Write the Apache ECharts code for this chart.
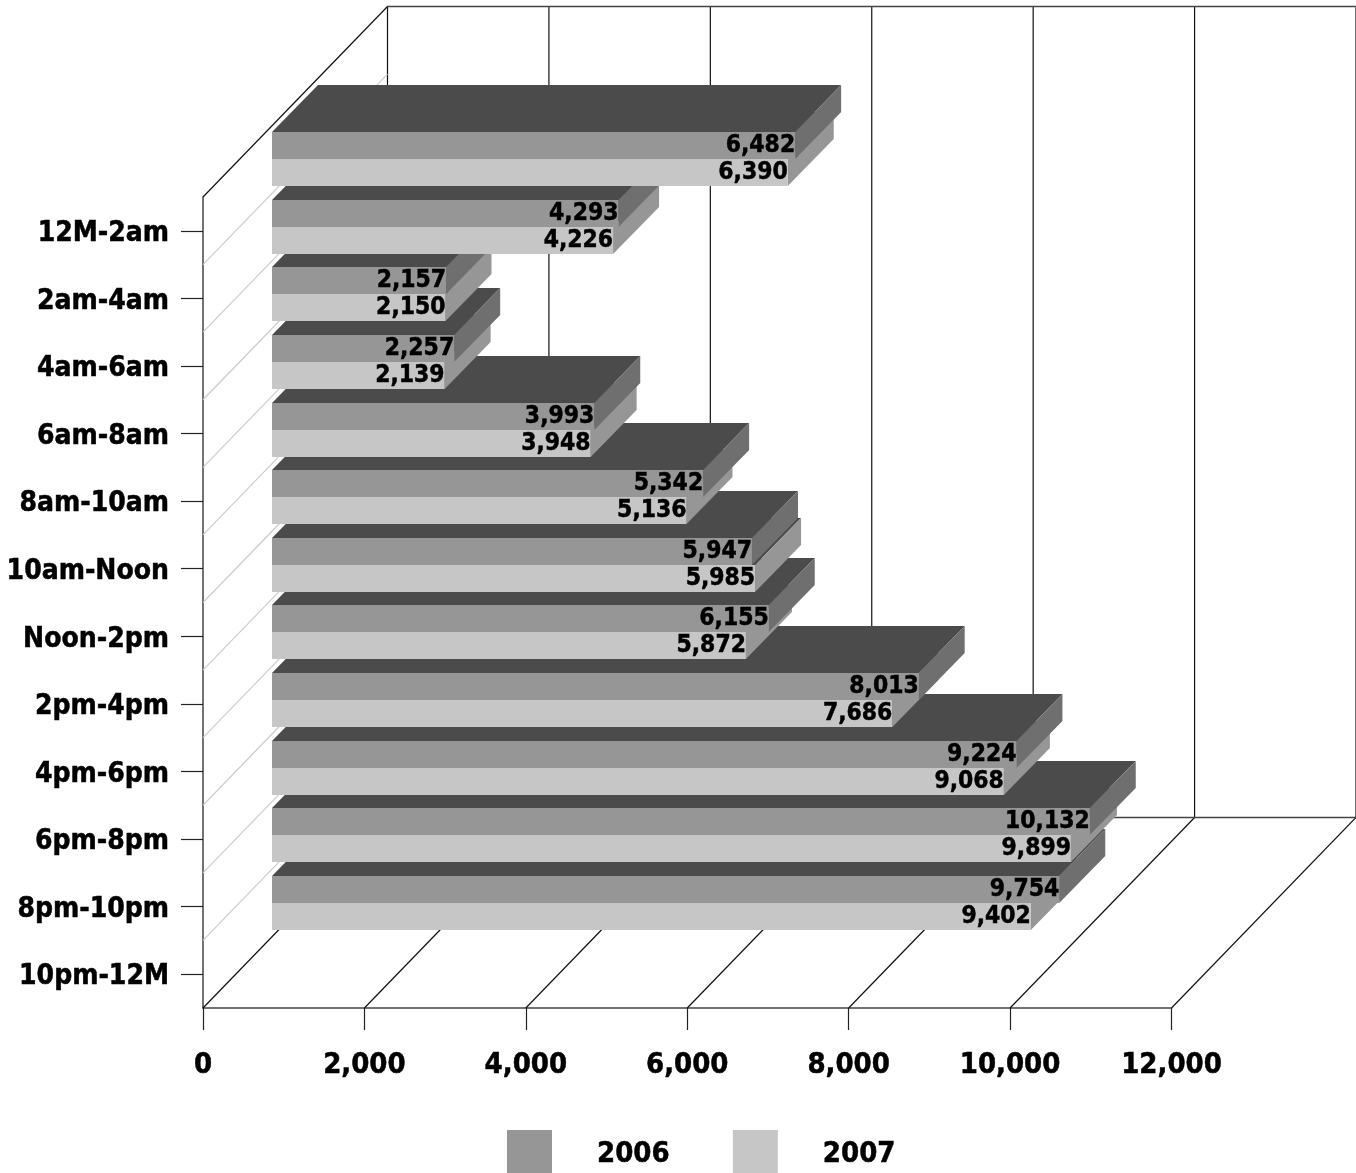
<!DOCTYPE html>
<html>
<head>
<meta charset="utf-8">
<style>html,body{margin:0;padding:0;background:#fff}#c{width:1356px;height:1173px}</style>
<script src="https://cdn.jsdelivr.net/npm/echarts@6/dist/echarts.min.js"></script>
</head>
<body>
<div id="c"></div>
<script>
const categories = ['12M-2am','2am-4am','4am-6am','6am-8am','8am-10am','10am-Noon','Noon-2pm','2pm-4pm','4pm-6pm','6pm-8pm','8pm-10pm','10pm-12M'];
const values2006 = [6482,4293,2157,2257,3993,5342,5947,6155,8013,9224,10132,9754];
const values2007 = [6390,4226,2150,2139,3948,5136,5985,5872,7686,9068,9899,9402];
const xTicks = [0,2000,4000,6000,8000,10000,12000];
const seriesNames = ['2006','2007'];

const FONT = '"DejaVu Sans Condensed","DejaVu Sans",sans-serif';
const COLORS = {
  front:['#969696','#c6c6c6'],
  side:['#6f6f6f','#969696'],
  top:['#4b4b4b','#4b4b4b']
};
const WALL = {dx:184.5, dy:-190.5};
const BAR = {dx0:69, dy0:-71.5, dx:46, dy:-47, h:27};

function fmt(v){return String(v).replace(/\B(?=(\d{3})+$)/g,',');}

function renderBar(s){
  return function(params, api){
    const v = api.value(0), cat = api.value(1);
    const p = api.coord([v,cat]), o = api.coord([0,cat]);
    const xs = o[0]+BAR.dx0, xe = p[0]+BAR.dx0;
    const mid = Math.round(p[1]+BAR.dy0);
    const y0 = s===0 ? mid-BAR.h : mid;
    const y1 = y0+BAR.h;
    // upper bands sit in front of lower ones, and 2006 in front of 2007
    const z = (categories.length-cat)*10+(s===0?2:1);
    const poly = (pts,fill,zz)=>({type:'polygon',z2:zz,shape:{points:pts},style:{fill:fill}});
    return {type:'group',children:[
      poly([[xs,y0],[xs+BAR.dx,y0+BAR.dy],[xe+BAR.dx,y0+BAR.dy],[xe,y0]],COLORS.top[s],z),
      poly([[xe,y0],[xe+BAR.dx,y0+BAR.dy],[xe+BAR.dx,y1+BAR.dy],[xe,y1]],COLORS.side[s],z),
      poly([[xs,y0],[xe,y0],[xe,y1],[xs,y1]],COLORS.front[s],z),
      {type:'text',z2:1000,style:{text:fmt(v),x:xe,y:y0+BAR.h/2+0.5,align:'right',verticalAlign:'middle',
        fontFamily:FONT,fontWeight:'bold',fontSize:24.4,fill:'#000',stroke:'#000',lineWidth:0.5}}
    ]};
  };
}

function renderWalls(params, api){
  const cs = params.coordSys, top = cs.y, bottom = cs.y+cs.height;
  const line = (x1,y1,x2,y2,c,w)=>({type:'line',z2:-5,shape:{x1,y1,x2,y2},style:{stroke:c||'#111',lineWidth:w||1.2,fill:null}});
  const kids = [];
  const xOf = t=>api.coord([t,0])[0];
  // the floor and the two walls
  xTicks.forEach(t=>{
    const x = xOf(t);
    kids.push(line(x,bottom,x+WALL.dx,bottom+WALL.dy));
    kids.push(line(x+WALL.dx,bottom+WALL.dy,x+WALL.dx,top+WALL.dy));
  });
  const xl = xOf(0), xr = xOf(xTicks[xTicks.length-1]);
  kids.push(line(xl+WALL.dx,bottom+WALL.dy,xr+WALL.dx,bottom+WALL.dy,'#444',1.5));
  kids.push(line(xl+WALL.dx,top+WALL.dy,xr+WALL.dx,top+WALL.dy,'#444',1.5));
  kids.push(line(xl,top,xl+WALL.dx,top+WALL.dy));
  // light lines on the side wall at the band edges
  const band = cs.height/categories.length;
  categories.slice(1).forEach((c,i)=>{
    const y = top+band*(i+1);
    kids.push(line(xl,y,xl+WALL.dx,y+WALL.dy,'#cccccc',1.2));
  });
  return {type:'group',children:kids};
}

const chart = echarts.init(document.getElementById('c'),null,{renderer:'canvas'});
const labelStyle = {fontFamily:FONT,fontWeight:'bold',fontSize:29,color:'#000',textBorderColor:'#000',textBorderWidth:0.5};
chart.setOption({
  animation:false,
  backgroundColor:'#fff',
  grid:{left:203,right:184.5,top:197,bottom:165,containLabel:false},
  legend:{
    left:507,top:1130,padding:0,itemWidth:45,itemHeight:43,itemGap:63,icon:'rect',selectedMode:false,
    data:[{name:'2006',itemStyle:{color:COLORS.front[0]}},{name:'2007',itemStyle:{color:COLORS.front[1]}}],
    formatter:'{t|{name}}',
    textStyle:Object.assign({},labelStyle,{padding:[0,0,0,40],rich:{t:{fontFamily:FONT,fontWeight:'bold',fontSize:29,color:'#000',textBorderColor:'#000',textBorderWidth:0.5,padding:[6,0,0,0]}}})
  },
  xAxis:{type:'value',min:0,max:12000,interval:2000,
    axisLine:{show:true,lineStyle:{color:'#444',width:1.5}},
    axisTick:{show:true,length:22,lineStyle:{color:'#222',width:1.2}},
    splitLine:{show:false},
    axisLabel:Object.assign({margin:43,formatter:fmt,hideOverlap:false},labelStyle)},
  yAxis:{type:'category',inverse:true,data:categories,
    axisLine:{show:true,lineStyle:{color:'#444',width:1.5}},
    axisTick:{show:true,alignWithLabel:true,length:22,lineStyle:{color:'#222',width:1.2}},
    axisLabel:Object.assign({margin:34,interval:0,formatter:'{t|{value}}'},labelStyle,{
      rich:{t:{fontFamily:FONT,fontWeight:'bold',fontSize:28,color:'#000',textBorderColor:'#000',textBorderWidth:0.5,padding:[6,0,0,0]}}})},
  series:[
    {type:'custom',name:'walls',silent:true,renderItem:renderWalls,data:[[0,0]],encode:{x:0,y:1},z:1},
    {type:'custom',name:seriesNames[0],silent:true,renderItem:renderBar(0),
     data:values2006.map((v,i)=>[v,i]),encode:{x:0,y:1},itemStyle:{color:COLORS.front[0]},z:2},
    {type:'custom',name:seriesNames[1],silent:true,renderItem:renderBar(1),
     data:values2007.map((v,i)=>[v,i]),encode:{x:0,y:1},itemStyle:{color:COLORS.front[1]},z:2}
  ]
});
</script>
</body>
</html>
